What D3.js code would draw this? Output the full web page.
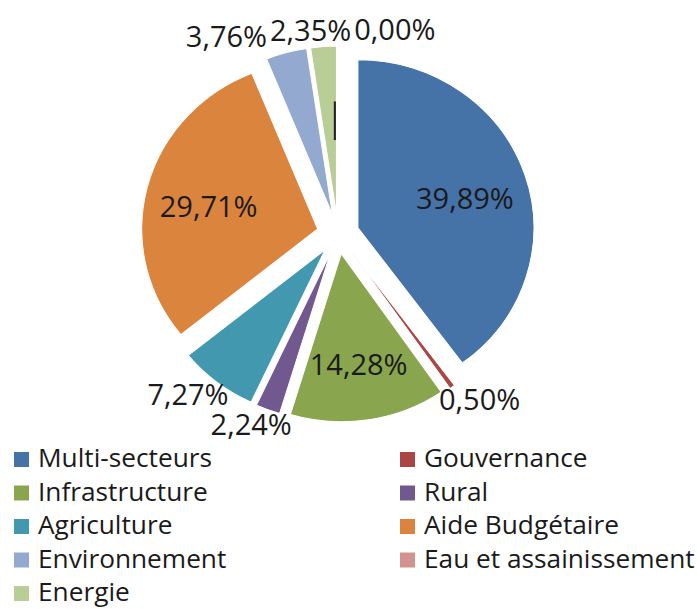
<!DOCTYPE html>
<html>
<head>
<meta charset="utf-8">
<script src="https://cdn.jsdelivr.net/npm/d3@7"></script>
<style>
    body { margin: 0; background: #fff; }
    text { font-family: "Open Sans", sans-serif; fill: #1a1a1a; }
</style>
</head>
<body>
<div id="chart"></div>
<script>
// sectors in the order the slices run clockwise from the top
var sectors = ["Multi-secteurs", "Gouvernance", "Infrastructure", "Rural", "Agriculture",
    "Aide Budgétaire", "Environnement", "Energie", "Eau et assainissement"];
var shares = [39.89, 0.50, 14.28, 2.24, 7.27, 29.71, 3.76, 2.35, 0.00];
// legend reads row by row, two columns
var legendOrder = ["Multi-secteurs", "Gouvernance", "Infrastructure", "Rural", "Agriculture",
    "Aide Budgétaire", "Environnement", "Eau et assainissement", "Energie"];
var palette = ["#4572A7", "#AA4643", "#89A54E", "#71588F", "#4198AF",
    "#DB843D", "#93A9CF", "#B9CD96", "#D19392"];

(function () {
    var width = 697,
        height = 609;

    var svg = d3.select("#chart")
        .append("svg")
        .attr("width", width)
        .attr("height", height);

    var cx = 338, cy = 234,
        radius = 168,
        stretch = 176 / 168,   // the original pie is a little wider than tall
        explode = 20;

    var color = d3.scaleOrdinal().domain(sectors).range(palette);

    var pie = d3.pie().sort(null).value(function (d) { return d; });
    var arcs = pie(shares);
    arcs.forEach(function (d, i) {
        d.name = sectors[i];
        d.mid = (d.startAngle + d.endAngle) / 2;
    });

    var arc = d3.arc().innerRadius(0).outerRadius(radius);

    var fmt = function (v) {
        return d3.format(".2f")(v).replace(".", ",") + "%";
    };

    var g = svg.append("g")
        .attr("transform", "translate(" + cx + "," + cy + ") scale(" + stretch + ",1)");

    g.selectAll(".slice")
        .data(arcs)
        .enter().append("path")
        .attr("class", "slice")
        .attr("d", arc)
        .attr("transform", function (d) {
            return "translate(" + Math.sin(d.mid) * explode + "," + (-Math.cos(d.mid) * explode) + ")";
        })
        .attr("fill", function (d) { return color(d.name); })
        .attr("stroke", "#fff")
        .attr("stroke-width", 1);

    // the empty slice only shows as a dark tick
    arcs.filter(function (d) { return d.value === 0; }).forEach(function (d) {
        var r0 = radius * 0.44, r1 = radius * 0.67;
        g.append("line")
            .attr("x1", Math.sin(d.mid) * (r0 + explode) - 3)
            .attr("y1", -Math.cos(d.mid) * (r0 + explode))
            .attr("x2", Math.sin(d.mid) * (r1 + explode) - 3)
            .attr("y2", -Math.cos(d.mid) * (r1 + explode))
            .attr("stroke", "#222")
            .attr("stroke-width", 2);
    });

    // labels: big slices inside, the rest just outside the rim
    var labels = svg.selectAll(".pct")
        .data(arcs)
        .enter().append("text")
        .attr("class", "pct")
        .attr("text-anchor", "middle")
        .attr("dy", "0.35em")
        .style("font-size", "29px")
        .text(function (d) { return fmt(d.value); });

    labels.each(function (d) {
        var w = this.getComputedTextLength(), h = 20;
        d.w = w;
        if (d.value > 10) {
            var r = radius * 0.64 + explode;
            d.lx = cx + Math.sin(d.mid) * r * stretch;
            d.ly = cy - Math.cos(d.mid) * r + 5;
            d.inside = true;
        } else {
            var ro = radius + explode + 6;
            d.lx = cx + Math.sin(d.mid) * ro * stretch + Math.sin(d.mid) * w / 2;
            d.ly = cy - Math.cos(d.mid) * ro - Math.cos(d.mid) * h / 2;
            d.inside = false;
        }
    });

    // push overlapping outside labels apart sideways, keeping their clockwise order
    var outside = arcs.filter(function (d) { return !d.inside; });
    for (var k = 0; k < 80; k++) {
        for (var i = 0; i < outside.length; i++) {
            for (var j = i + 1; j < outside.length; j++) {
                var a = outside[i], b = outside[j];
                if (Math.abs(a.ly - b.ly) > 22) continue;
                var need = (a.w + b.w) / 2 + 3,
                    gap = Math.abs(b.lx - a.lx);
                if (gap < need || (b.lx - a.lx) * (a.ly < cy ? 1 : -1) < 0) {
                    var dir = a.ly < cy ? 1 : -1,
                        push = (need - (b.lx - a.lx) * dir) / 2;
                    a.lx -= push * dir;
                    b.lx += push * dir;
                }
            }
        }
    }

    labels
        .attr("x", function (d) { return d.lx; })
        .attr("y", function (d) { return d.ly; });

    // legend
    var legend = svg.append("g").attr("class", "legend");
    var items = legend.selectAll(".item")
        .data(legendOrder)
        .enter().append("g")
        .attr("class", "item")
        .attr("transform", function (d, i) {
            return "translate(" + (14 + (i % 2) * 386) + "," + (467 + Math.floor(i / 2) * 33.5) + ")";
        });

    items.append("rect")
        .attr("x", 0)
        .attr("y", -15)
        .attr("width", 15)
        .attr("height", 15)
        .attr("fill", function (d) { return color(d); });

    items.append("text")
        .attr("transform", "translate(24,0) scale(1.05,1)")
        .style("font-size", "25px")
        .text(function (d) { return d; });
})();
</script>
</body>
</html>
